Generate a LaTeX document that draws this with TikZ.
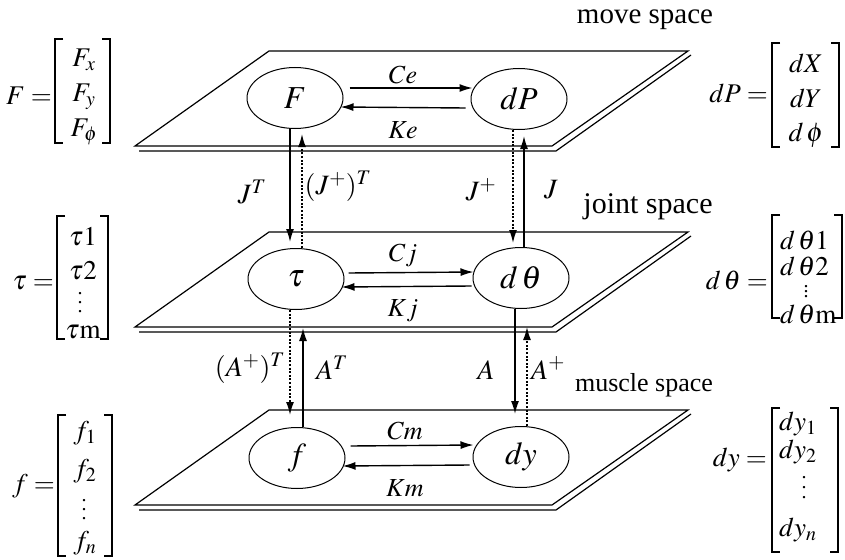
\documentclass[tikz,border=0pt]{standalone}
\usepackage{mathptmx}
\usepackage{fontspec}
\setmainfont{Liberation Serif}
\usetikzlibrary{arrows.meta,shapes.geometric}
\newcommand{\vdotsx}[1]{\vbox{\baselineskip=#1\lineskiplimit=0pt\hbox{.}\hbox{.}\hbox{.}}}
\begin{document}
\begin{tikzpicture}[x=1pt,y=-1pt,
  plane/.style={line width=1.2pt, line join=miter},
  ell/.style={draw, ellipse, line width=1pt, minimum width=96pt, minimum height=61pt, inner sep=0pt, font=\fontsize{32}{34}\selectfont},
  arr/.style={line width=1.4pt, -{Latex[length=13pt,width=8pt]}},
  darr/.style={line width=1.6pt, dash pattern=on 2pt off 1.6pt, -{Latex[length=13pt,width=8pt]}},
  hlab/.style={inner sep=0pt, font=\fontsize{26}{28}\selectfont},
  lab/.style={inner sep=0pt, font=\fontsize{28}{30}\selectfont},
  space/.style={inner sep=0pt, font=\fontsize{29}{31}\selectfont},
  ent/.style={inner sep=0pt, font=\fontsize{27}{29}\selectfont},
  vd/.style={inner sep=0pt, font=\fontsize{20}{22}\selectfont},
  brk/.style={line width=1.2pt}
]
\useasboundingbox (0,0) rectangle (845,559);
% planes
\foreach \t in {51,232,410} {
  \draw[plane] (269,\t) -- (688,\t) -- (552,\t+95) -- (135,\t+95) -- cycle;
  \draw[plane] (139,\t+100) -- (556,\t+100) -- (691,\t+4);
}
% space labels
\node[space] (ms) at (645,20) {move space};
\node[space,font=\fontsize{30}{32}\selectfont] (js) at (648,207) {joint space};
\node[space,font=\fontsize{26}{28}\selectfont] (mus) at (644,385) {muscle space};
% ellipses
\node[ell] (F) at (295,98) {$F$};
\node[ell] (dP) at (519,99) {$dP$};
\node[ell] (tau) at (296,279) {$\tau$};
\node[ell] (dth) at (521,278) {$d\,\theta$};
\node[ell] (f) at (297,458) {$f$};
\node[ell] (dy) at (521,457) {$dy$};
% horizontal arrows
\draw[arr] ([xshift=6pt,yshift=10pt]F.east) -- ([xshift=2pt,yshift=11pt]dP.west);
\draw[arr] ([xshift=-5pt,yshift=-9pt]dP.west) -- ([xshift=-3pt,yshift=-9pt]F.east);
\draw[arr] ([xshift=4pt,yshift=6pt]tau.east) -- ([xshift=1pt,yshift=6pt]dth.west);
\draw[arr] ([xshift=-1pt,yshift=-8pt]dth.west) -- ([xshift=-3pt,yshift=-8pt]tau.east);
\draw[arr] ([xshift=5pt,yshift=12pt]f.east) -- ([xshift=1pt,yshift=12pt]dy.west);
\draw[arr] ([xshift=-3pt,yshift=-8pt]dy.west) -- ([xshift=-3pt,yshift=-8pt]f.east);
\node[hlab] (Ce) at (403,75) {$Ce$};
\node[hlab] (Ke) at (403,130) {$Ke$};
\node[hlab] (Cj) at (403,255) {$Cj$};
\node[hlab] (Kj) at (403,311) {$Kj$};
\node[hlab] (Cm) at (405,431) {$Cm$};
\node[hlab] (Km) at (405,488) {$Km$};
% vertical arrows top
\draw[arr] ([xshift=-5pt]F.south) -- ([xshift=-6pt,yshift=6pt]tau.north);
\draw[darr] ([xshift=6pt]tau.north) -- ([xshift=7pt,yshift=-5pt]F.south);
\draw[darr] ([xshift=-6pt]dP.south) -- ([xshift=-8pt,yshift=4pt]dth.north);
\draw[arr] ([xshift=3pt]dth.north) -- ([xshift=5pt,yshift=-6pt]dP.south);
\node[lab] (JT) at (252,192) {$J^T$};
\node[lab] (JpT) at (338,186) {$(J^+)^T$};
\node[lab] (Jp) at (481,190) {$J^+$};
\node[lab] (J) at (551,190) {$J$};
% vertical arrows bottom
\draw[darr] ([xshift=-6pt]tau.south) -- ([xshift=-7pt,yshift=12pt]f.north);
\draw[arr] ([xshift=6pt]f.north) -- ([xshift=7pt,yshift=-18pt]tau.south);
\draw[arr] ([xshift=-6pt]dth.south) -- ([xshift=-6pt,yshift=12pt]dy.north);
\draw[darr] ([xshift=6pt]dy.north) -- ([xshift=6pt,yshift=-18pt]dth.south);
\node[lab] (ApT) at (250,368) {$(A^+)^T$};
\node[lab] (AT) at (332,368) {$A^T$};
\node[lab] (A) at (486,370) {$A$};
\node[lab] (Ap) at (548,368) {$A^+$};
% left matrices
\node[ent,anchor=east] (Feq) at (52,96) {$F=$};
\draw[brk] (63,39) -- (55,39) -- (55,143) -- (63,143);
\draw[brk] (102,39) -- (110,39) -- (110,143) -- (102,143);
\node[ent] (Fx) at (84,60) {$F_x$};
\node[ent] (Fy) at (84,97) {$F_y$};
\node[ent] (Fp) at (84,132) {$F_\phi$};

\node[ent,anchor=east] (taueq) at (54,283) {$\tau=$};
\draw[brk] (65,216) -- (57,216) -- (57,339) -- (65,339);
\draw[brk] (100,216) -- (108,216) -- (108,339) -- (100,339);
\node[ent] (t1) at (83,237) {$\tau1$};
\node[ent] (t2) at (83,271) {$\tau2$};
\node[vd] (tv) at (80,303) {\vdotsx{9pt}};
\node[ent] (tm) at (83,332) {$\tau\mathrm{m}$};

\node[ent,anchor=east] (feq) at (55,486) {$f=$};
\draw[brk] (66,415) -- (58,415) -- (58,556) -- (66,556);
\draw[brk] (104,415) -- (112,415) -- (112,556) -- (104,556);
\node[ent] (f1) at (85,433) {$f_1$};
\node[ent] (f2) at (85,471) {$f_2$};
\node[vd] (fv) at (84,510) {\vdotsx{9pt}};
\node[ent] (fn) at (85,543) {$f_n$};
% right matrices
\node[ent,anchor=east] (dPeq) at (768,93) {$dP=$};
\draw[brk] (780,43) -- (772,43) -- (772,147) -- (780,147);
\draw[brk] (831,43) -- (839,43) -- (839,147) -- (831,147);
\node[ent] (dX) at (806,63) {$dX$};
\node[ent] (dY) at (806,98) {$dY$};
\node[ent] (dph) at (806,135) {$d\,\phi$};

\node[ent,anchor=east] (dtheq) at (768,280) {$d\,\theta=$};
\draw[brk] (780,215) -- (772,215) -- (772,318) -- (780,318);
\draw[brk] (834,215) -- (842,215) -- (842,318) -- (834,318);
\node[ent,anchor=west] (dt1) at (780,240) {$d\,\theta1$};
\node[ent,anchor=west] (dt2) at (780,266) {$d\,\theta2$};
\node[vd] (dtv) at (806,292) {\vdotsx{5pt}};
\node[ent,anchor=west] (dtm) at (780,314) {$d\,\theta\mathrm{m}$};

\node[ent,anchor=east] (dyeq) at (767,460) {$dy=$};
\draw[brk] (780,408) -- (772,408) -- (772,552) -- (780,552);
\draw[brk] (830,408) -- (838,408) -- (838,552) -- (830,552);
\node[ent,anchor=west] (dy1) at (779,424) {$dy_1$};
\node[ent,anchor=west] (dy2) at (779,452) {$dy_2$};
\node[vd] (dyv) at (804,488) {\vdotsx{10pt}};
\node[ent,anchor=west] (dyn) at (779,530) {$dy_n$};
\end{tikzpicture}
\end{document}
